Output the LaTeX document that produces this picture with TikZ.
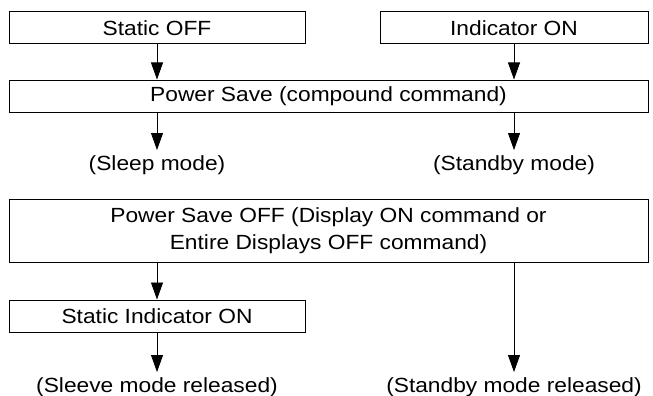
\documentclass[tikz,border=0pt]{standalone}
\usepackage{fontspec}
\setmainfont{Liberation Sans}[FakeStretch=1.11]
\usetikzlibrary{arrows.meta}
\begin{document}
\begin{tikzpicture}[x=1pt,y=-1pt,
  every node/.style={font=\fontsize{20.5}{27}\selectfont},
  box/.style={draw,line width=1pt,inner sep=0pt,align=center},
  lbl/.style={inner sep=0pt,text height=20.5pt,text depth=4pt},
  arr/.style={line width=0.8pt,-{Triangle[width=12pt,length=17pt]}}]
\useasboundingbox (0,0) rectangle (653,396);
\node[box,minimum width=296pt,minimum height=32pt] (so) at (157,28) {Static OFF};
\node[box,minimum width=268pt,minimum height=32pt] (io) at (514,28) {Indicator ON};
\node[box,minimum width=639pt,minimum height=32pt] (ps) at (328.5,96) {Power Save (compound command)};
\node[lbl,anchor=north] (sleep) at (157,150) {(Sleep mode)};
\node[lbl,anchor=north] (stby) at (514,150) {(Standby mode)};
\node[box,minimum width=639pt,minimum height=63pt] (psoff) at (328.5,230.5) {Power Save OFF (Display ON command or\\Entire Displays OFF command)};
\node[box,minimum width=296pt,minimum height=32pt] (sio) at (157,316) {Static Indicator ON};
\node[lbl,anchor=north] (sleeve) at (157,372) {(Sleeve mode released)};
\node[lbl,anchor=north] (stbyr) at (514,372) {(Standby mode released)};
\draw[arr] (so.south) -- (so.south |- ps.north);
\draw[arr] (io.south) -- (io.south |- ps.north);
\draw[arr] (ps.south -| sleep.north) -- (sleep.north);
\draw[arr] (ps.south -| stby.north) -- (stby.north);
\draw[arr] (psoff.south -| sio.north) -- (sio.north);
\draw[arr] (sio.south) -- (sleeve.north);
\draw[arr] (psoff.south -| stbyr.north) -- (stbyr.north);
\end{tikzpicture}
\end{document}
